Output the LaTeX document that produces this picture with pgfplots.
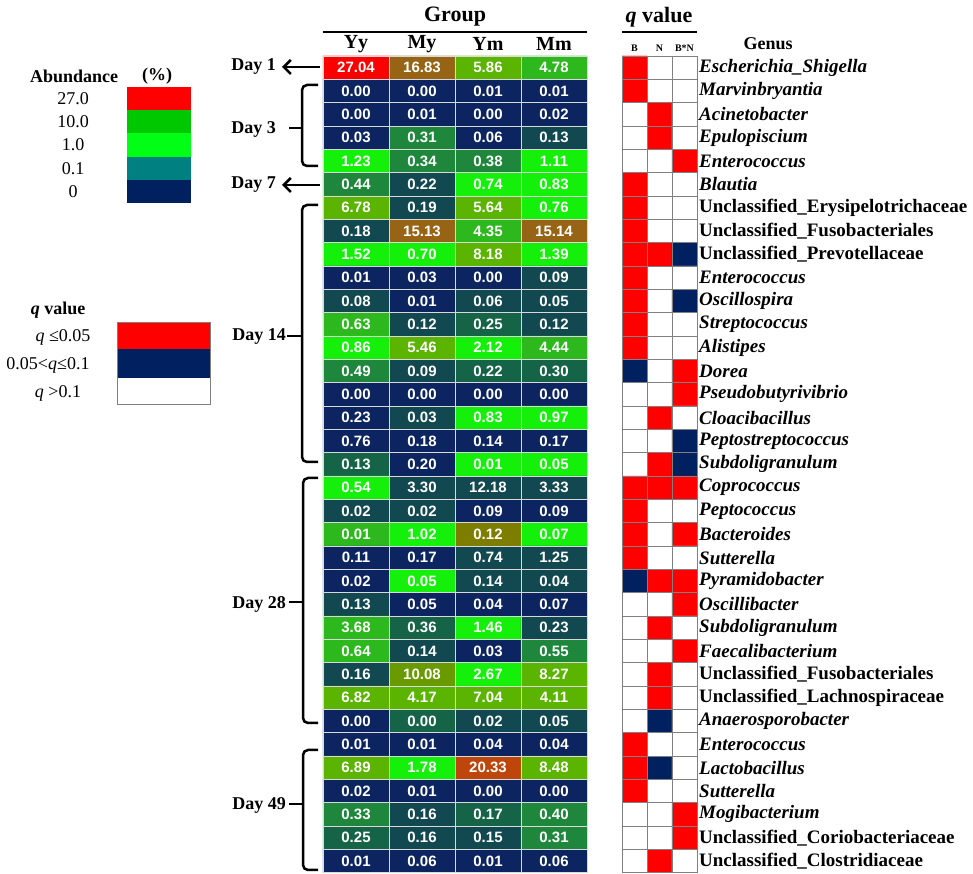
\documentclass[border=0pt]{standalone}
\usepackage{pgfplots}
\pgfplotsset{compat=1.18}
\usepackage{pgfplotstable}
\usepackage{fontspec}
\setmainfont{Liberation Serif}
\newfontfamily\arial{Liberation Sans}
\usetikzlibrary{arrows.meta}
\newcommand{\fs}[1]{\fontsize{#1}{#1}\selectfont}

% heatmap: x = group (0 Yy, 1 My, 2 Ym, 3 Mm), y = row, c = colour class, v = abundance (%)
\pgfplotstableread{
x y c v
0 0 10 27.04
1 0 8 16.83
2 0 6 5.86
3 0 4 4.78
0 1 0 0.00
1 1 0 0.00
2 1 0 0.01
3 1 0 0.01
0 2 0 0.00
1 2 0 0.01
2 2 0 0.00
3 2 0 0.02
0 3 0 0.03
1 3 3 0.31
2 3 0 0.06
3 3 1 0.13
0 4 5 1.23
1 4 3 0.34
2 4 3 0.38
3 4 5 1.11
0 5 3 0.44
1 5 1 0.22
2 5 5 0.74
3 5 5 0.83
0 6 6 6.78
1 6 1 0.19
2 6 6 5.64
3 6 5 0.76
0 7 1 0.18
1 7 8 15.13
2 7 4 4.35
3 7 8 15.14
0 8 5 1.52
1 8 5 0.70
2 8 6 8.18
3 8 5 1.39
0 9 0 0.01
1 9 0 0.03
2 9 0 0.00
3 9 1 0.09
0 10 1 0.08
1 10 0 0.01
2 10 1 0.06
3 10 1 0.05
0 11 4 0.63
1 11 1 0.12
2 11 2 0.25
3 11 1 0.12
0 12 5 0.86
1 12 6 5.46
2 12 5 2.12
3 12 4 4.44
0 13 3 0.49
1 13 1 0.09
2 13 2 0.22
3 13 2 0.30
0 14 0 0.00
1 14 0 0.00
2 14 0 0.00
3 14 0 0.00
0 15 0 0.23
1 15 1 0.03
2 15 5 0.83
3 15 5 0.97
0 16 0 0.76
1 16 0 0.18
2 16 0 0.14
3 16 0 0.17
0 17 2 0.13
1 17 0 0.20
2 17 5 0.01
3 17 5 0.05
0 18 5 0.54
1 18 1 3.30
2 18 1 12.18
3 18 1 3.33
0 19 1 0.02
1 19 1 0.02
2 19 0 0.09
3 19 0 0.09
0 20 4 0.01
1 20 5 1.02
2 20 7 0.12
3 20 5 0.07
0 21 0 0.11
1 21 0 0.17
2 21 1 0.74
3 21 1 1.25
0 22 0 0.02
1 22 5 0.05
2 22 1 0.14
3 22 1 0.04
0 23 1 0.13
1 23 0 0.05
2 23 0 0.04
3 23 0 0.07
0 24 4 3.68
1 24 2 0.36
2 24 5 1.46
3 24 1 0.23
0 25 4 0.64
1 25 1 0.14
2 25 0 0.03
3 25 3 0.55
0 26 1 0.16
1 26 11 10.08
2 26 5 2.67
3 26 6 8.27
0 27 6 6.82
1 27 6 4.17
2 27 6 7.04
3 27 6 4.11
0 28 0 0.00
1 28 2 0.00
2 28 1 0.02
3 28 1 0.05
0 29 0 0.01
1 29 0 0.01
2 29 0 0.04
3 29 0 0.04
0 30 6 6.89
1 30 5 1.78
2 30 9 20.33
3 30 6 8.48
0 31 0 0.02
1 31 0 0.01
2 31 0 0.00
3 31 0 0.00
0 32 3 0.33
1 32 1 0.16
2 32 2 0.17
3 32 3 0.40
0 33 2 0.25
1 33 1 0.16
2 33 1 0.15
3 33 3 0.31
0 34 0 0.01
1 34 0 0.06
2 34 0 0.01
3 34 0 0.06
}\heat

% q values: x = factor (0 B, 1 N, 2 B*N); c: 0 = q>0.1, 1 = q<=0.05, 2 = 0.05<q<=0.1
\pgfplotstableread{
x y c
0 0 1
1 0 0
2 0 0
0 1 1
1 1 0
2 1 0
0 2 0
1 2 1
2 2 0
0 3 0
1 3 1
2 3 0
0 4 0
1 4 0
2 4 1
0 5 1
1 5 0
2 5 0
0 6 1
1 6 0
2 6 0
0 7 1
1 7 0
2 7 0
0 8 1
1 8 1
2 8 2
0 9 1
1 9 0
2 9 0
0 10 1
1 10 0
2 10 2
0 11 1
1 11 0
2 11 0
0 12 1
1 12 0
2 12 0
0 13 2
1 13 0
2 13 1
0 14 0
1 14 0
2 14 1
0 15 0
1 15 1
2 15 0
0 16 0
1 16 0
2 16 2
0 17 0
1 17 1
2 17 2
0 18 1
1 18 1
2 18 1
0 19 1
1 19 0
2 19 0
0 20 1
1 20 0
2 20 1
0 21 1
1 21 0
2 21 0
0 22 2
1 22 1
2 22 1
0 23 0
1 23 0
2 23 1
0 24 0
1 24 1
2 24 0
0 25 0
1 25 0
2 25 1
0 26 0
1 26 1
2 26 0
0 27 0
1 27 1
2 27 0
0 28 0
1 28 2
2 28 0
0 29 1
1 29 0
2 29 0
0 30 1
1 30 2
2 30 0
0 31 1
1 31 0
2 31 0
0 32 0
1 32 0
2 32 1
0 33 0
1 33 0
2 33 1
0 34 0
1 34 1
2 34 0
}\qval

\definecolor{navy}{RGB}{0,32,96}
\definecolor{qred}{RGB}{255,0,0}
\definecolor{leggreen}{RGB}{0,200,0}
\definecolor{leglime}{RGB}{0,255,20}
\definecolor{legteal}{RGB}{0,128,128}

\begin{document}
\begin{tikzpicture}
\path[use as bounding box] (0pt,0pt) rectangle (973pt,874pt);

% ---------- heatmap ----------
\begin{axis}[
  at={(323pt,818pt)}, anchor=north west,
  scale only axis, width=264pt, height=816.7pt,
  xmin=-0.5, xmax=3.5, ymin=-0.5, ymax=34.5, y dir=reverse,
  xtick={0.5,1.5,2.5}, ytick={0.5,1.5,...,33.5},
  xticklabels={}, yticklabels={},
  grid=major,
  major grid style={draw=white!70!gray, line width=0.8pt},
  major tick length=0pt,
  axis line style={draw=white!70!gray, line width=0.8pt},
  axis on top, clip=false,
  colormap={heat}{rgb255=(12,36,96) rgb255=(18,72,80) rgb255=(22,100,72)
    rgb255=(30,135,60) rgb255=(45,185,30) rgb255=(20,240,10) rgb255=(90,180,0)
    rgb255=(125,125,0) rgb255=(150,100,20) rgb255=(190,70,10) rgb255=(250,0,0)
    rgb255=(105,155,0)},
  colormap access=direct,
]
\addplot[matrix plot*, mesh/cols=4, point meta=explicit] table[x=x, y=y, meta=c] {\heat};
\addplot[only marks, mark=none, point meta=explicit symbolic, nodes near coords,
  nodes near coords style={anchor=center, inner sep=0pt, text=white, font=\arial\bfseries\fs{15}}]
  table[x=x, y=y, meta=v] {\heat};
\end{axis}

% ---------- q value grid ----------
\begin{axis}[
  at={(622pt,818pt)}, anchor=north west,
  scale only axis, width=75pt, height=816.7pt,
  xmin=-0.5, xmax=2.5, ymin=-0.5, ymax=34.5, y dir=reverse,
  xtick={0.5,1.5}, xticklabels={}, xmajorgrids,
  ytick={0,...,34},
  yticklabel pos=right, major tick length=0pt,
  yticklabel style={anchor=west, inner xsep=0pt, xshift=2pt, font=\bfseries\fs{19}},
  yticklabels={{\textit{Escherichia\_Shigella}},{\textit{Marvinbryantia}},{\textit{Acinetobacter}},
    {\textit{Epulopiscium}},{\textit{Enterococcus}},{\textit{Blautia}},
    {Unclassified\_Erysipelotrichaceae},{Unclassified\_Fusobacteriales},{Unclassified\_Prevotellaceae},
    {\textit{Enterococcus}},{\textit{Oscillospira}},{\textit{Streptococcus}},{\textit{Alistipes}},
    {\textit{Dorea}},{\textit{Pseudobutyrivibrio}},{\textit{Cloacibacillus}},{\textit{Peptostreptococcus}},
    {\textit{Subdoligranulum}},{\textit{Coprococcus}},{\textit{Peptococcus}},{\textit{Bacteroides}},
    {\textit{Sutterella}},{\textit{Pyramidobacter}},{\textit{Oscillibacter}},{\textit{Subdoligranulum}},
    {\textit{Faecalibacterium}},{Unclassified\_Fusobacteriales},{Unclassified\_Lachnospiraceae},
    {\textit{Anaerosporobacter}},{\textit{Enterococcus}},{\textit{Lactobacillus}},{\textit{Sutterella}},
    {\textit{Mogibacterium}},{Unclassified\_Coriobacteriaceae},{Unclassified\_Clostridiaceae}},
  extra y ticks={0.5,1.5,...,33.5}, extra y tick labels={},
  extra y tick style={ymajorgrids=true, major tick length=0pt},
  major grid style={draw=gray, line width=0.8pt},
  axis line style={draw=gray, line width=0.8pt},
  axis on top,
  colormap={qv}{rgb255=(255,255,255) rgb255=(255,0,0) rgb255=(0,32,96)},
  colormap access=direct,
]
\addplot[matrix plot*, mesh/cols=3, point meta=explicit] table[x=x, y=y, meta=c] {\qval};
\end{axis}

% ---------- headers ----------
\node[font=\bfseries\fs{22}] at (455pt,857pt) {Group};
\draw[line width=1.2pt] (323pt,842pt) -- (587pt,842pt);
\foreach \xx/\lab in {356/Yy, 422/My, 488/Ym, 554/Mm}
  \node[font=\bfseries\fs{20}] at (\xx pt,830pt) {\lab};
\node[font=\bfseries\fs{22}] at (659pt,857pt) {\textit{q} value};
\draw[line width=1.2pt] (622pt,842pt) -- (697pt,842pt);
\foreach \xx/\lab in {634.5/B, 659.5/N, 684.5/B*N}
  \node[font=\bfseries\fs{10}] at (\xx pt,826pt) {\lab};
\node[font=\bfseries\fs{18}] at (768pt,830pt) {Genus};

% ---------- abundance legend ----------
\node[font=\bfseries\fs{18}, anchor=west, inner sep=0pt] at (30pt,798pt) {Abundance};
\node[font=\bfseries\fs{18}, anchor=west, inner sep=0pt] at (142pt,798pt) {(\%)};
\fill[qred]     (127pt,764pt) rectangle (191pt,787pt);
\fill[leggreen] (127pt,741pt) rectangle (191pt,764pt);
\fill[leglime]  (127pt,717pt) rectangle (191pt,741pt);
\fill[legteal]  (127pt,694pt) rectangle (191pt,717pt);
\fill[navy]     (127pt,671pt) rectangle (191pt,694pt);
\foreach \yy/\lab in {775.5/27.0, 752.5/10.0, 729/1.0, 705.5/0.1, 682.5/0}
  \node[font=\fs{18}] at (73pt,\yy pt) {\lab};

% ---------- q value legend ----------
\node[font=\bfseries\fs{18}] at (58pt,564pt) {\textit{q} value};
\fill[qred] (117pt,525pt) rectangle (210pt,552pt);
\fill[navy] (117pt,496pt) rectangle (210pt,525pt);
\draw[gray, line width=0.8pt] (117pt,470pt) rectangle (210pt,552pt);
\node[font=\fs{18}] at (63pt,537pt) {\textit{q} ≤0.05};
\node[font=\fs{18}] at (48pt,509pt) {0.05<\textit{q}≤0.1};
\node[font=\fs{18}] at (58pt,481pt) {\textit{q} >0.1};

% ---------- day annotations ----------
\tikzset{day/.style={font=\bfseries\fs{18}, anchor=east, inner sep=0pt},
         br/.style={line width=2.5pt, rounded corners=5pt}}
\node[day] at (276pt,807pt) {Day 1};
\draw[line width=2.5pt, -{Straight Barb[length=7pt, width=14pt]}] (320pt,807pt) -- (282pt,807pt);
\node[day] at (276pt,745pt) {Day 3};
\draw[br] (318pt,789pt) -- (302pt,789pt) -- (302pt,708pt) -- (318pt,708pt);
\draw[line width=2.5pt] (302pt,746pt) -- (289pt,746pt);
\node[day] at (276pt,689pt) {Day 7};
\draw[line width=2.5pt, -{Straight Barb[length=7pt, width=14pt]}] (320pt,689pt) -- (282pt,689pt);
\node[day] at (286pt,537pt) {Day 14};
\draw[br] (318pt,669pt) -- (302pt,669pt) -- (302pt,412pt) -- (318pt,412pt);
\draw[line width=2.5pt] (302pt,538pt) -- (287pt,538pt);
\node[day] at (286pt,270pt) {Day 28};
\draw[br] (318pt,396pt) -- (303pt,396pt) -- (303pt,151pt) -- (318pt,151pt);
\draw[line width=2.5pt] (303pt,272pt) -- (289pt,272pt);
\node[day] at (286pt,69pt) {Day 49};
\draw[br] (318pt,124pt) -- (303pt,124pt) -- (303pt,4pt) -- (318pt,4pt);
\draw[line width=2.5pt] (303pt,70pt) -- (289pt,70pt);
\end{tikzpicture}
\end{document}
